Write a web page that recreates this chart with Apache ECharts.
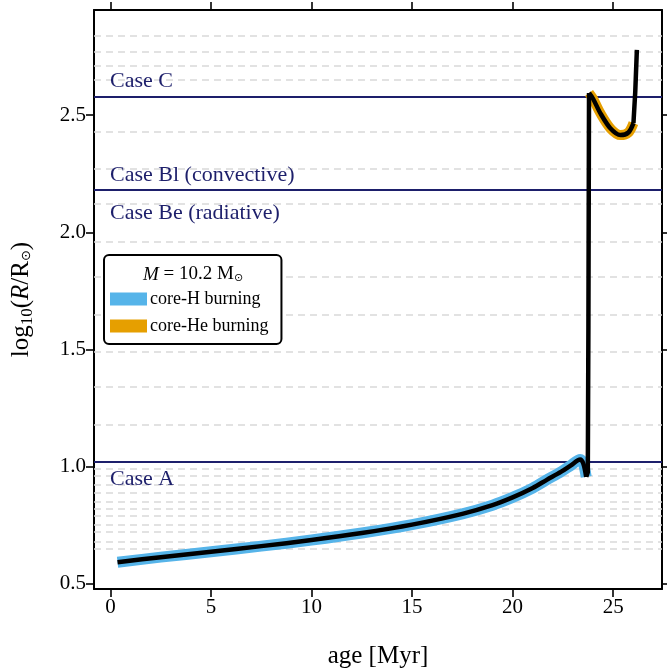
<!DOCTYPE html>
<html lang="en">
<head>
<meta charset="UTF-8" />
<title>track</title>
<style>html,body{margin:0;padding:0;background:#fff}</style>
</head>
<body>
<div id="main" style="width:667px;height:671px"></div>
<script src="https://cdn.jsdelivr.net/npm/echarts@6.0.0/dist/echarts.min.js"></script>
<script>
// core-H burning (main sequence + hook)
var hAge  = [0.35, 2.5, 5.0, 7.5, 10.0, 12.5, 15.0, 17.5, 19.0, 20.0, 21.0, 21.7, 22.4, 22.9, 23.36, 23.52, 23.66];
var hLogR = [0.591, 0.613, 0.636, 0.660, 0.686, 0.716, 0.752, 0.798, 0.835, 0.868, 0.908, 0.943, 0.977, 1.005, 1.030, 1.012, 0.956];
// Hertzsprung gap crossing
var gapAge  = [23.66, 23.74, 23.77, 23.8];
var gapLogR = [0.956, 0.975, 1.6, 2.595];
// core-He burning
var heAge  = [23.8, 24.0, 24.36, 24.86, 25.36, 25.76, 26.01];
var heLogR = [2.595, 2.57, 2.509, 2.444, 2.415, 2.426, 2.466];
// after core-He exhaustion
var postAge  = [26.01, 26.1, 26.18];
var postLogR = [2.466, 2.6, 2.779];

// reference radii
var gridLevels = [2.839, 2.772, 2.712, 2.648, 2.427, 2.268, 2.117, 1.960, 1.806, 1.651, 1.494, 1.337, 1.181,
                  0.988, 0.956, 0.923, 0.889, 0.855, 0.821, 0.786, 0.752, 0.718, 0.684, 0.650];
var caseNames  = ['Case C', 'Case Bl (convective)', 'Case Be (radiative)', 'Case A'];
var caseLevels = [2.584, 2.182, 2.182, 1.023];
var caseAbove  = [true, true, false, false];

var xTicks = [0, 5, 10, 15, 20, 25];
var yTicks = [0.5, 1.0, 1.5, 2.0, 2.5];

function pairs(a, b) { return a.map(function (v, i) { return [v, b[i]]; }); }

var serif = 'Liberation Serif';
var navy = '#1d1f6b';

var myChart = echarts.init(document.getElementById('main'));

function axisBase(pos, min, max, ticks, showLabel) {
  return {
    type: 'value', position: pos, min: min, max: max,
    axisLine: { show: true, onZero: false, lineStyle: { color: '#000', width: 2 } },
    axisTick: { show: true, inside: false, length: 8, customValues: ticks, lineStyle: { color: '#000', width: 1.6 } },
    axisLabel: { show: showLabel, customValues: ticks, color: '#000', fontFamily: serif, fontSize: 21,
                 margin: 8,
                 formatter: function (v) { return pos === 'left' ? v.toFixed(1) : String(v); } },
    splitLine: { show: false }
  };
}

var xMain = axisBase('bottom', -0.82, 27.43, xTicks, true);
xMain.name = 'age [Myr]';
xMain.nameLocation = 'middle';
xMain.nameGap = 55;
xMain.nameTextStyle = { color: '#000', fontFamily: serif, fontSize: 25 };

var yMain = axisBase('left', 0.477, 2.949, yTicks, true);
yMain.name = '{a|log}{s|10}{a|(}{i|R}{a|/R}{o|⊙}{a|)}';
yMain.nameLocation = 'middle';
yMain.nameGap = 58;
yMain.nameTextStyle = {
  color: '#000', fontFamily: serif, fontSize: 25,
  rich: {
    a: { fontFamily: serif, fontSize: 25, color: '#000' },
    i: { fontFamily: serif, fontSize: 25, fontStyle: 'italic', color: '#000' },
    s: { fontFamily: serif, fontSize: 17, color: '#000', padding: [12, 0, 0, 0] },
    o: { fontFamily: 'DejaVu Sans', fontSize: 13, color: '#000', padding: [10, 0, 0, 0] }
  }
};

var labelGap = [4, 4, 12, 6];
var caseData = caseNames.map(function (n, i) {
  return {
    yAxis: caseLevels[i],
    label: {
      show: true, formatter: n, position: caseAbove[i] ? 'insideStartTop' : 'insideStartBottom',
      color: navy, fontFamily: serif, fontSize: 22, distance: [16, labelGap[i]]
    }
  };
});

function trackPart(name, data, color, width, z, smooth) {
  return {
    name: name, type: 'line', z: z, showSymbol: false, symbol: 'none', silent: true,
    data: data, smooth: smooth,
    itemStyle: { color: color },
    lineStyle: { color: color, width: width, join: 'round', cap: 'butt' }
  };
}

var option = {
  animation: false,
  grid: { left: 94, right: 5, top: 10, bottom: 82, containLabel: false, outerBoundsMode: 'none' },
  title: {
    text: '{i|M} = 10.2 M{o|⊙}',
    left: 138, top: 260,
    textStyle: {
      rich: {
        i: { fontFamily: serif, fontSize: 19, fontStyle: 'italic', color: '#000' },
        o: { fontFamily: 'DejaVu Sans', fontSize: 11, color: '#000', padding: [8, 0, 0, 0] }
      },
      fontFamily: serif, fontSize: 19, color: '#000', fontWeight: 'normal'
    }
  },
  legend: {
    orient: 'vertical', left: 104, top: 255,
    data: ['core-H burning', 'core-He burning'],
    icon: 'rect', itemWidth: 37, itemHeight: 13, itemGap: 9,
    padding: [35, 13, 9, 6],
    backgroundColor: '#fff', borderColor: '#000', borderWidth: 2, borderRadius: 5,
    textStyle: { fontFamily: serif, fontSize: 18, color: '#000', padding: [0, 0, 0, -2] }
  },
  xAxis: [xMain, axisBase('top', -0.82, 27.43, xTicks, false)],
  yAxis: [yMain, axisBase('right', 0.477, 2.949, yTicks, false)],
  series: [
    {
      name: 'levels', type: 'line', data: [], silent: true,
      markLine: {
        silent: true, symbol: 'none', animation: false, z: 1,
        label: { show: false },
        lineStyle: { color: '#d9d9d9', width: 1.6, type: [7, 5] },
        data: gridLevels.map(function (v) { return { yAxis: v }; })
      }
    },
    {
      name: 'cases', type: 'line', data: [], silent: true,
      markLine: {
        silent: true, symbol: 'none', animation: false, z: 2,
        lineStyle: { color: navy, width: 2, type: 'solid' },
        data: caseData
      }
    },
    trackPart('core-H burning', pairs(hAge, hLogR), '#56b4e9', 11, 3, 0.3),
    trackPart('core-He burning', pairs(heAge, heLogR), '#e69f00', 10, 3, 0.3),
    trackPart('ms', pairs(hAge, hLogR), '#000', 4.5, 4, 0.3),
    trackPart('gap', pairs(gapAge, gapLogR), '#000', 4.5, 4, false),
    trackPart('he', pairs(heAge, heLogR), '#000', 4.5, 4, 0.3),
    trackPart('post', pairs(postAge, postLogR), '#000', 4.5, 4, false)
  ]
};
myChart.setOption(option);
</script>
</body>
</html>
